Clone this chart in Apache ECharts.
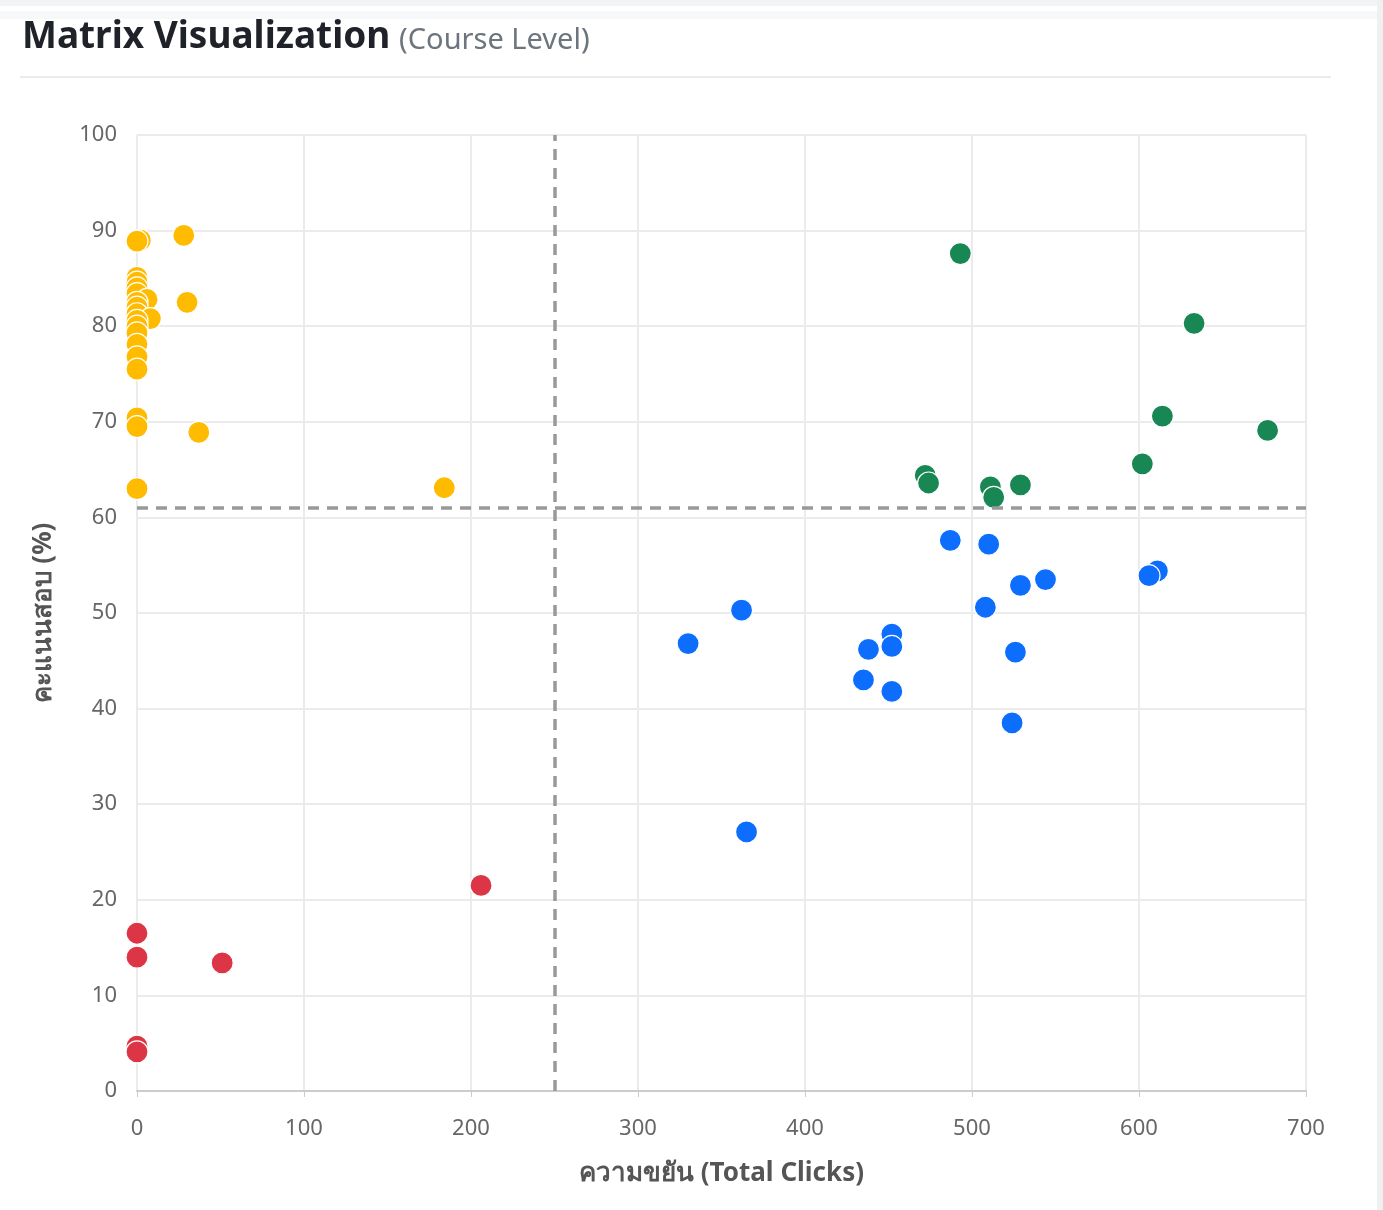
<!DOCTYPE html>
<html>
<head>
<meta charset="utf-8">
<script src="https://cdn.jsdelivr.net/npm/echarts@6/dist/echarts.min.js"></script>
<style>
html,body{margin:0;padding:0;background:#fff;}
#chart{width:1383px;height:1210px;}
</style>
</head>
<body>
<div id="chart"></div>
<script>
// [clicks, score]
var starPoints = [ // high score, high clicks (green)
  [493, 87.6], [633, 80.3], [614, 70.6], [677, 69.1], [602, 65.6],
  [472, 64.4], [474, 63.6], [511, 63.2], [513, 62.1], [529, 63.4]
];
var effortPoints = [ // low score, high clicks (blue)
  [487, 57.6], [510, 57.2], [611, 54.4], [606, 53.9], [544, 53.5],
  [529, 52.9], [508, 50.6], [362, 50.3], [330, 46.8], [452, 47.8],
  [452, 46.5], [438, 46.2], [526, 45.9], [435, 43.0], [452, 41.8],
  [524, 38.5], [365, 27.1]
];
var talentPoints = [ // high score, low clicks (yellow)
  [2, 89.0], [0, 88.9], [28, 89.5], [0, 85.1], [0, 84.6], [0, 84.0],
  [0, 83.4], [6, 82.8], [0, 82.5], [0, 82.0], [0, 81.3], [8, 80.8],
  [0, 80.6], [0, 80.0], [0, 79.3], [0, 78.1], [0, 76.8], [0, 75.5],
  [30, 82.5], [0, 70.4], [0, 69.5], [37, 68.9], [0, 63.0], [184, 63.1]
];
var riskPoints = [ // low score, low clicks (red)
  [0, 16.5], [0, 14.0], [51, 13.4], [0, 4.7], [0, 4.1], [206, 21.5]
];
var clickThreshold = 250;
var scoreThreshold = 61;

var chart = echarts.init(document.getElementById('chart'));
var font = '"Noto Sans", "Open Sans", sans-serif';
function sc(name, data, color, extra) {
  var s = {
    name: name, type: 'scatter', data: data, symbolSize: 22,
    itemStyle: { color: color, borderColor: '#ffffff', borderWidth: 1.2, opacity: 1 }
  };
  if (extra) for (var k in extra) s[k] = extra[k];
  return s;
}
chart.setOption({
  backgroundColor: '#ffffff',
  animation: false,
  textStyle: { fontFamily: font },
  title: {
    left: 17, top: 14,
    text: '{a|Matrix Visualization} {b|(Course Level)}',
    textStyle: {
      rich: {
        a: { fontSize: 37, fontWeight: 'bold', color: '#1f2329', fontFamily: font },
        b: { fontSize: 29, fontWeight: 'normal', color: '#6c757d', fontFamily: font, padding: [6, 0, 0, 4] }
      }
    }
  },
  graphic: [
    { type: 'rect', shape: { x: 0, y: 0, width: 1383, height: 6 }, style: { fill: '#f3f4f5' } },
    { type: 'rect', shape: { x: 0, y: 11, width: 1378, height: 8 }, style: { fill: '#f7f8f9' } },
    { type: 'rect', shape: { x: 1377, y: 0, width: 6, height: 1210 }, style: { fill: '#eef0f2' } },
    { type: 'rect', shape: { x: 20, y: 76, width: 1311, height: 2 }, style: { fill: '#e9ecef' } }
  ],
  grid: { left: 137, right: 77, top: 135, bottom: 119 },
  xAxis: {
    type: 'value', min: 0, max: 700, interval: 100,
    name: 'ความขยัน (Total Clicks)', nameLocation: 'middle', nameGap: 70,
    nameTextStyle: { fontSize: 26, color: '#555', fontWeight: 'bold', fontFamily: font },
    axisLine: { show: true, lineStyle: { color: '#cccccc', width: 2 } },
    axisTick: { show: true, length: 6, lineStyle: { color: '#cccccc' } },
    axisLabel: { fontSize: 22, color: '#666', margin: 27, fontFamily: font },
    splitLine: { show: true, lineStyle: { color: '#ebebeb', width: 2 } }
  },
  yAxis: {
    type: 'value', min: 0, max: 100, interval: 10,
    name: 'คะแนนสอบ (%)', nameLocation: 'middle', nameGap: 80, nameRotate: 90,
    nameTextStyle: { fontSize: 26, color: '#555', fontWeight: 'bold', fontFamily: font },
    axisLine: { show: false },
    axisTick: { show: false },
    axisLabel: { fontSize: 22, color: '#666', margin: 20, fontFamily: font },
    splitLine: { show: true, lineStyle: { color: '#ebebeb', width: 2 } }
  },
  series: [
    sc('Risk', riskPoints, '#dc3545', {
      markLine: {
        silent: true, symbol: 'none', label: { show: false },
        lineStyle: { color: '#999999', type: [11, 8], width: 3.5 },
        data: [{ xAxis: clickThreshold }, { yAxis: scoreThreshold }]
      }
    }),
    sc('Talent', talentPoints, '#ffbb00'),
    sc('Effort', effortPoints, '#0d6efd'),
    sc('Star', starPoints, '#198754')
  ]
});
</script>
</body>
</html>
